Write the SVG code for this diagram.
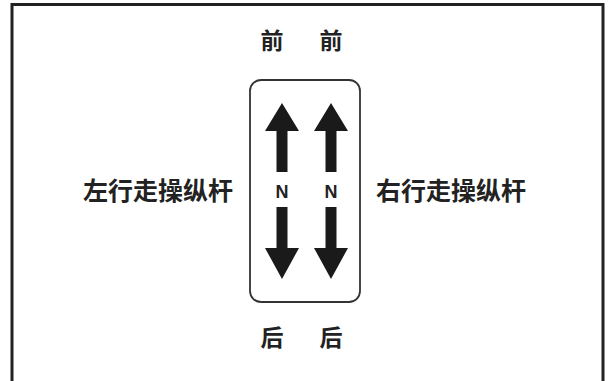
<svg xmlns="http://www.w3.org/2000/svg" width="608" height="381" viewBox="0 0 608 381">
<style>
.cjk{font-family:"Noto Sans CJK SC","Noto Sans",sans-serif;font-weight:bold;fill:#222}
.n{font-family:"Liberation Sans",Arial,sans-serif;font-weight:bold;font-size:18px;fill:#222;text-anchor:middle}
.arr{fill:#1a1a1a}
</style>
<defs>
<path id="up" d="M0,0 L17,28 L5.5,28 L5.5,69 L-5.5,69 L-5.5,28 L-17,28 Z"/>
<path id="down" d="M0,0 L17,-31 L5.5,-31 L5.5,-72 L-5.5,-72 L-5.5,-31 L-17,-31 Z"/>
</defs>
<rect x="0" y="0" width="608" height="381" fill="#fff"/>
<rect id="frame" x="12" y="4.5" width="591" height="400" fill="none" stroke="#222" stroke-width="3"/>
<g id="labels">
<text class="cjk" x="272" y="49" font-size="23" text-anchor="middle">前</text>
<text class="cjk" x="331" y="49" font-size="23" text-anchor="middle">前</text>
<text class="cjk" x="272" y="346" font-size="23" text-anchor="middle">后</text>
<text class="cjk" x="331" y="346" font-size="23" text-anchor="middle">后</text>
<text class="cjk" x="233" y="200" font-size="25" text-anchor="end">左行走操纵杆</text>
<text class="cjk" x="376" y="200" font-size="25" text-anchor="start">右行走操纵杆</text>
</g>
<g id="gate">
<rect x="250" y="80" width="110" height="222" rx="11" fill="#fff" stroke="#333" stroke-width="1.8"/>
</g>
<g id="left-lever">
<use href="#up" class="arr" x="282" y="103"/>
<text class="n" x="282" y="198">N</text>
<use href="#down" class="arr" x="282" y="279"/>
</g>
<g id="right-lever">
<use href="#up" class="arr" x="331" y="103"/>
<text class="n" x="331" y="198">N</text>
<use href="#down" class="arr" x="331" y="279"/>
</g>
</svg>
